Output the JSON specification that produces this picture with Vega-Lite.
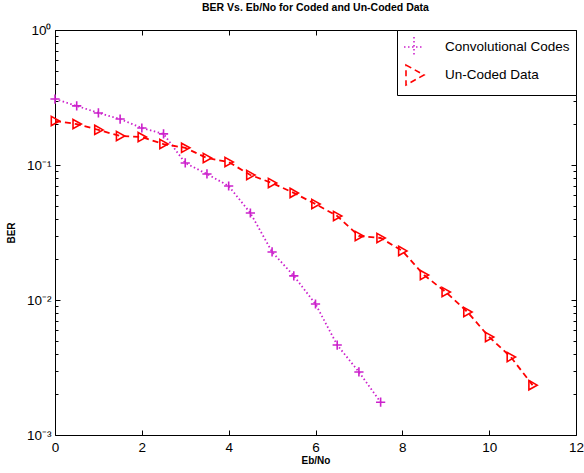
{
  "$schema": "https://vega.github.io/schema/vega-lite/v6.json",
  "autosize": "none",
  "width": 521,
  "height": 405,
  "padding": {"left": 55, "top": 30, "right": 8, "bottom": 38},
  "background": "white",
  "title": {"text": "BER Vs. Eb/No for Coded and Un-Coded Data", "font": "Liberation Sans", "fontSize": 10.5, "fontWeight": "bold", "color": "black", "offset": 10, "anchor": "middle"},
  "config": {
    "view": {"stroke": "black", "strokeWidth": 1},
    "axis": {"labelFont": "Liberation Sans", "titleFont": "Liberation Sans", "labelColor": "black", "titleColor": "black", "gridColor": "black", "gridOpacity": 1, "gridWidth": 1},
    "legend": {"symbolSize": 400}
  },
  "data": {"values": [
    {"ebno": 0, "ber": 0.308, "series": "Convolutional Codes"},
    {"ebno": 0.5, "ber": 0.274, "series": "Convolutional Codes"},
    {"ebno": 1, "ber": 0.243, "series": "Convolutional Codes"},
    {"ebno": 1.5, "ber": 0.219, "series": "Convolutional Codes"},
    {"ebno": 2, "ber": 0.188, "series": "Convolutional Codes"},
    {"ebno": 2.5, "ber": 0.170, "series": "Convolutional Codes"},
    {"ebno": 3, "ber": 0.1035, "series": "Convolutional Codes"},
    {"ebno": 3.5, "ber": 0.0858, "series": "Convolutional Codes"},
    {"ebno": 4, "ber": 0.0699, "series": "Convolutional Codes"},
    {"ebno": 4.5, "ber": 0.0441, "series": "Convolutional Codes"},
    {"ebno": 5, "ber": 0.0227, "series": "Convolutional Codes"},
    {"ebno": 5.5, "ber": 0.0151, "series": "Convolutional Codes"},
    {"ebno": 6, "ber": 0.00934, "series": "Convolutional Codes"},
    {"ebno": 6.5, "ber": 0.00464, "series": "Convolutional Codes"},
    {"ebno": 7, "ber": 0.00293, "series": "Convolutional Codes"},
    {"ebno": 7.5, "ber": 0.00175, "series": "Convolutional Codes"},
    {"ebno": 0, "ber": 0.212, "series": "Un-Coded Data"},
    {"ebno": 0.5, "ber": 0.201, "series": "Un-Coded Data"},
    {"ebno": 1, "ber": 0.182, "series": "Un-Coded Data"},
    {"ebno": 1.5, "ber": 0.164, "series": "Un-Coded Data"},
    {"ebno": 2, "ber": 0.161, "series": "Un-Coded Data"},
    {"ebno": 2.5, "ber": 0.143, "series": "Un-Coded Data"},
    {"ebno": 3, "ber": 0.134, "series": "Un-Coded Data"},
    {"ebno": 3.5, "ber": 0.1127, "series": "Un-Coded Data"},
    {"ebno": 4, "ber": 0.1052, "series": "Un-Coded Data"},
    {"ebno": 4.5, "ber": 0.0843, "series": "Un-Coded Data"},
    {"ebno": 5, "ber": 0.0736, "series": "Un-Coded Data"},
    {"ebno": 5.5, "ber": 0.0621, "series": "Un-Coded Data"},
    {"ebno": 6, "ber": 0.0514, "series": "Un-Coded Data"},
    {"ebno": 6.5, "ber": 0.0419, "series": "Un-Coded Data"},
    {"ebno": 7, "ber": 0.0298, "series": "Un-Coded Data"},
    {"ebno": 7.5, "ber": 0.0288, "series": "Un-Coded Data"},
    {"ebno": 8, "ber": 0.0231, "series": "Un-Coded Data"},
    {"ebno": 8.5, "ber": 0.0153, "series": "Un-Coded Data"},
    {"ebno": 9, "ber": 0.01146, "series": "Un-Coded Data"},
    {"ebno": 9.5, "ber": 0.00815, "series": "Un-Coded Data"},
    {"ebno": 10, "ber": 0.00532, "series": "Un-Coded Data"},
    {"ebno": 10.5, "ber": 0.00378, "series": "Un-Coded Data"},
    {"ebno": 11, "ber": 0.00234, "series": "Un-Coded Data"}
  ]},
  "layer": [
    {
      "mark": {"type": "line", "strokeWidth": 1.8, "clip": true},
      "encoding": {
        "x": {"field": "ebno", "type": "quantitative", "scale": {"domain": [0, 12], "nice": false, "zero": false},
              "axis": {"values": [0, 2, 4, 6, 8, 10, 12], "ticks": false, "domain": false, "grid": true, "gridDash": [5, 395], "labelFontSize": 13.5, "labelPadding": 5, "labelFlush": false, "title": "Eb/No", "titleFontSize": 10, "titleFontWeight": "bold", "titlePadding": 2}},
        "y": {"field": "ber", "type": "quantitative", "scale": {"type": "log", "domain": [0.001, 1], "nice": false},
              "axis": {"values": [0.001, 0.002, 0.003, 0.004, 0.005, 0.006, 0.007, 0.008, 0.009, 0.01, 0.02, 0.03, 0.04, 0.05, 0.06, 0.07, 0.08, 0.09, 0.1, 0.2, 0.3, 0.4, 0.5, 0.6, 0.7, 0.8, 0.9, 1],
                       "ticks": false, "domain": false, "grid": true,
                       "gridDash": {"condition": {"test": "datum.value === 0.001 || datum.value === 0.01 || datum.value === 0.1 || datum.value === 1", "value": [5, 511]}, "value": [3, 515]},
                       "labelFontSize": 13.5, "labelPadding": 4,
                       "labelExpr": "datum.value === 1 ? '10⁰' : datum.value === 0.1 ? '10⁻¹' : datum.value === 0.01 ? '10⁻²' : datum.value === 0.001 ? '10⁻³' : ''",
                       "title": "BER", "titleFontSize": 10, "titleFontWeight": "bold", "titlePadding": 10}},
        "color": {"field": "series", "type": "nominal", "scale": {"domain": ["Convolutional Codes", "Un-Coded Data"], "range": ["#cc22cc", "#ff0000"]},
                  "legend": {"title": null, "orient": "top-right", "offset": 0, "strokeColor": "black", "fillColor": "white", "padding": 6, "rowPadding": 0, "labelFont": "Liberation Sans", "labelFontSize": 13.5, "labelColor": "black", "symbolSize": 400, "symbolStrokeWidth": 1.6, "labelOffset": 20,
                             "encode": {"symbols": {"update": {"shape": {"signal": "datum.value === 'Convolutional Codes' ? 'M-1,0H-0.85M-0.6,0H-0.45M-0.2,0H-0.05M1.2,0H1.35M1.6,0H1.75M2,0H2.15M0.6,-0.45V0.45M0.15,0H1.05' : 'M-1,0H-0.4M-0.1,0H0.15M0.15,-0.45L1.05,0L0.15,0.45ZM1.05,0H1.5M1.8,0H2.2'"}, "size": {"value": 400}, "fill": {"value": "transparent"}, "strokeDash": {"value": []}, "opacity": {"value": 1}, "strokeWidth": {"value": 1.6}}}}}},
        "strokeDash": {"field": "series", "type": "nominal", "scale": {"domain": ["Convolutional Codes", "Un-Coded Data"], "range": [[1.5, 2.5], [6, 4]]}, "legend": null}
      }
    },
    {
      "mark": {"type": "point", "filled": false, "strokeWidth": 1.6, "opacity": 1, "size": 85},
      "encoding": {
        "x": {"field": "ebno", "type": "quantitative"},
        "y": {"field": "ber", "type": "quantitative"},
        "color": {"field": "series", "type": "nominal"},
        "shape": {"field": "series", "type": "nominal", "scale": {"domain": ["Convolutional Codes", "Un-Coded Data"], "range": ["M-1,0H1M0,-1V1", "M-0.8,-1L1,0L-0.8,1Z"]}, "legend": null}
      }
    }
  ]
}
